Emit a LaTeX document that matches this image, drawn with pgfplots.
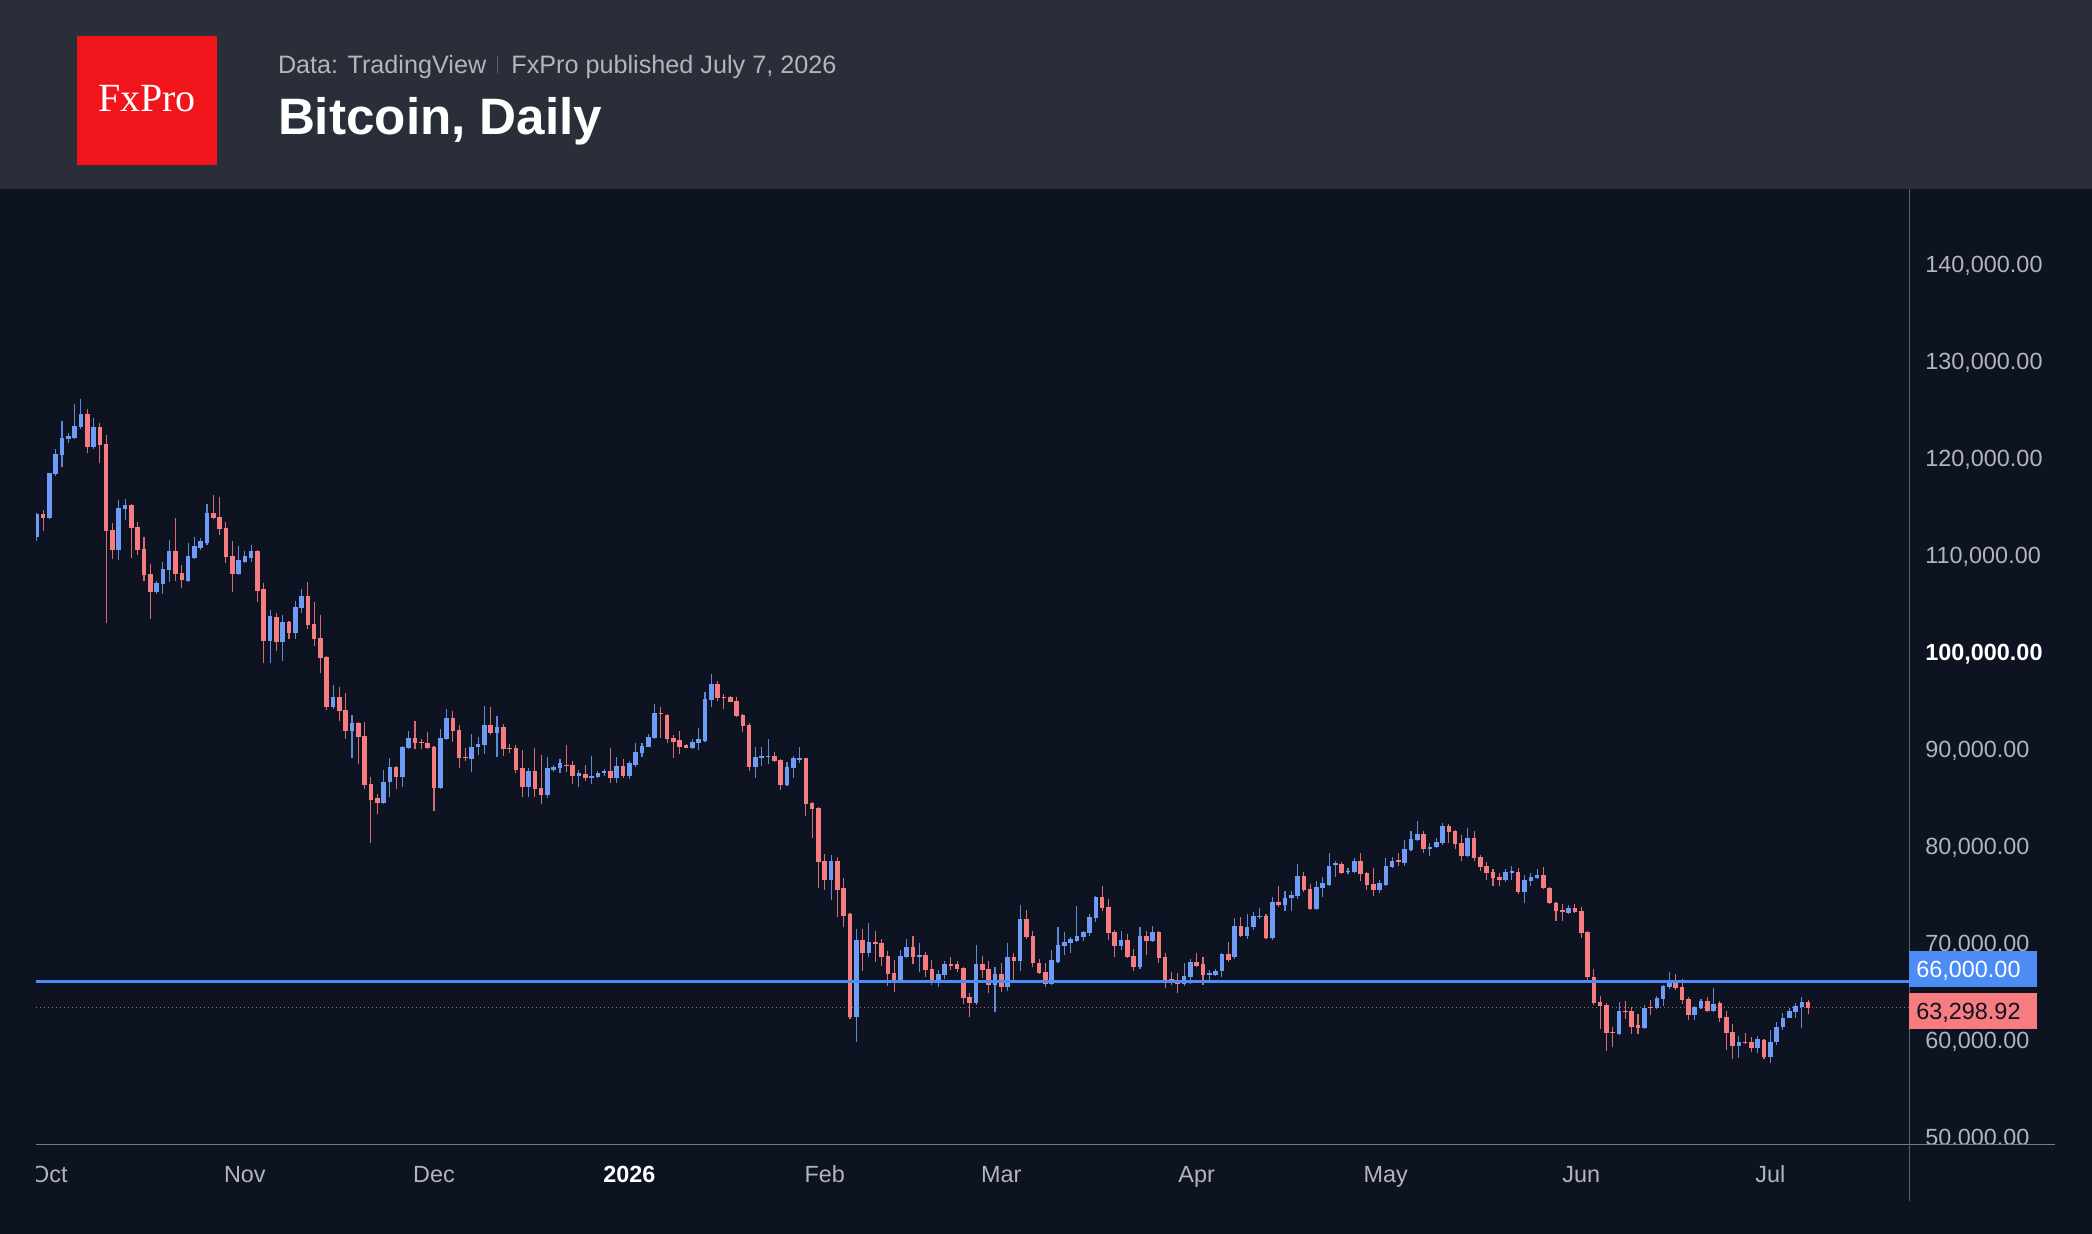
\documentclass[border=0pt]{standalone}
\usepackage{pgfplots}
\pgfplotsset{compat=1.18}
\usepackage{pgfplotstable}
\usepackage{fontspec}
\setmainfont{Liberation Sans}
\newfontfamily\logofont{Liberation Serif}
\definecolor{bg}{HTML}{0D1321}
\definecolor{hdr}{HTML}{2A2E39}
\definecolor{logored}{HTML}{F2141B}
\definecolor{txt}{HTML}{B2B5BE}
\definecolor{sepc}{HTML}{5D606B}
\definecolor{axc}{HTML}{787B86}
\definecolor{upc}{HTML}{6E9BF5}
\definecolor{dnc}{HTML}{F77C80}
\definecolor{upw}{HTML}{5F89D8}
\definecolor{dnw}{HTML}{D56E73}
\definecolor{lvl}{HTML}{4D8CF5}
\definecolor{dotc}{HTML}{C0646A}

\pgfplotstableread{
d o h l c
-2 111889 114364 111477 114226
0 113848 118500 113700 118420
1 118317 120894 118179 120379
2 120276 123816 119107 122097
3 121994 122613 121513 122269
4 122097 125568 121994 123300
5 123231 126084 122956 124503
7 121101 124091 120929 123163
11 110515 115670 109483 114880
12 114777 115807 113608 115120
17 106185 107353 106000 107078
18 106975 109312 105944 108521
19 108452 111546 107250 110377
22 107353 111203 107200 109897
23 109656 111821 109587 110927
24 110756 111718 110515 111443
25 111271 115257 111031 114364
30 108007 110928 107938 109484
31 109312 110412 109209 109897
32 109725 111031 109312 110447
35 101167 104328 98830 103710
37 101064 103813 99104 103126
39 101992 105256 101304 104603
40 104500 106460 104053 105772
45 94300 96596 94121 95394
48 91853 93503 89035 92712
53 84463 87832 84300 86629
54 86560 89035 85082 88107
56 87076 90341 86113 90238
57 90135 91853 89997 91097
62 86010 92025 85900 91097
63 91028 94087 90925 93228
67 88932 91544 87592 90169
68 90169 91200 89400 90513
69 90411 94432 89448 92473
71 91683 93401 89208 92301
76 86114 88005 85084 87730
79 85221 89208 84981 88005
80 87833 88349 87661 88108
81 88005 88933 87489 88521
84 87214 87833 86114 87489
86 86974 89311 86389 87214
87 87077 87764 86974 87558
88 87558 87902 87214 87764
90 86974 89139 86527 88246
92 87214 88800 86900 88520
93 88348 90651 88108 89654
94 89552 90582 89208 90342
95 90239 91545 90170 91270
96 91167 94604 91000 93676
102 90067 91029 89964 90754
103 90651 92198 89895 91029
104 90823 95841 90754 95119
105 95050 97731 94364 96700
112 88177 90239 86974 89208
113 89105 90170 88246 89277
114 89208 91029 88417 89311
117 86287 88624 86200 88109
118 88006 89312 87043 89037
119 88865 90240 88521 89037
124 76492 79069 74429 78485
128 62400 71405 59822 70305
130 68930 72024 68587 70064
135 66009 69274 65837 68656
136 68518 70374 68415 69549
138 68587 69961 67040 68759
141 66182 67213 65495 66766
142 66698 68141 66251 67832
147 63776 69791 63650 67832
150 65667 67557 62848 66766
152 65495 69963 65082 68588
154 68141 73915 67144 72437
159 65770 69275 65650 68244
160 68072 71681 67950 69791
161 69722 71165 68760 70066
162 69963 70650 69000 70375
163 70237 73812 70100 70719
164 70650 71200 70237 71097
165 70994 72987 70753 72712
166 72609 74843 72197 74706
170 69688 71234 69275 70306
173 67557 71612 67316 70719
175 70203 71784 70100 71097
180 65770 67969 65598 66594
181 66526 68313 65770 68072
184 66697 67213 66182 66869
185 66697 67282 66594 67144
186 67110 68950 66457 68863
188 68587 72539 68312 71749
190 70718 72952 70375 71612
191 71612 73227 71337 72815
192 72643 73640 72437 72815
194 70478 74705 70306 74258
196 73915 75358 73330 74671
197 74602 75358 73296 74946
198 74877 78108 74499 76905
201 73502 76389 73400 75736
202 75633 76768 74705 76148
203 75977 79311 75850 77970
204 78039 78486 76836 78211
206 77283 77695 77077 77455
207 77283 78727 77180 78486
211 75461 76500 75117 76149
212 75977 78795 75850 77970
213 77867 78898 77750 78486
215 78280 80617 77970 79655
216 79586 81545 79450 80686
217 80617 82576 80500 81235
219 79689 80342 79001 79930
220 79861 80857 79750 80445
221 80342 82335 80101 82060
225 79001 81820 78830 80857
231 76492 77626 76320 77352
232 77249 77970 76492 77420
234 75220 77008 74087 76492
235 76424 77180 75908 76767
236 76733 77592 76596 77008
241 73124 73915 72987 73571
249 60613 63879 60500 63021
253 61266 63604 61150 63329
255 63261 64532 63150 64291
256 64188 65700 63501 65598
257 65495 67041 65220 66079
261 62575 63502 62059 63365
262 63262 64190 63193 64018
264 62987 65324 62900 63709
268 59413 60444 58107 59756
271 59138 60444 58622 60066
273 58210 61028 57591 59825
274 59825 61887 59481 61372
275 61372 62746 61028 62300
276 62300 63262 62231 62987
277 62918 63778 62300 63502
278 63365 64396 61200 63881
}\upT

\pgfplotstableread{
d o h l c
-1 114192 114639 112508 113848
6 124503 125018 120482 121101
8 123163 123575 119520 121341
9 121444 122372 103021 112508
10 112577 113264 109621 110515
13 115120 115223 109724 112817
14 112920 113402 110000 110515
15 110653 111820 107353 107903
16 108040 109071 103433 106185
20 110377 113814 107353 108074
21 108109 108969 106563 107422
26 114364 116186 113677 113780
27 113952 115946 112062 112646
28 112749 113436 109209 109759
29 109897 111443 106150 108041
33 110412 110515 105119 106322
34 106460 107078 98830 101167
36 103641 104053 100135 101064
38 103126 103200 101304 101992
41 105772 107250 102336 102782
42 102885 105119 100616 101304
43 101407 103813 97867 99345
44 99448 99600 94000 94300
46 95394 96424 92885 93950
47 94018 95737 91028 91853
49 92712 92815 88416 91268
50 91372 92815 85873 86285
51 86388 87145 80340 84738
52 84978 85321 83260 84463
55 88107 88245 85873 87076
58 91097 92884 89963 90650
59 90753 90994 89963 90650
60 90582 91784 90000 90135
61 90238 90300 83638 86010
64 93228 93916 90753 91853
65 91922 92472 88004 89035
66 89207 90066 88794 89035
70 92473 94295 91442 91683
72 92301 92576 89311 89964
73 90067 90514 89552 89964
74 90067 90411 87489 87833
75 88005 89895 85084 86114
77 87730 90136 85084 85874
78 86012 89380 84293 85221
82 88349 90411 87661 88246
83 88349 88796 86389 87214
85 87421 88349 86733 86974
89 87730 90067 86527 86974
91 88246 88933 86974 87214
97 93676 94295 91167 93573
98 93504 93600 90582 91029
99 91098 91442 89036 90754
100 90926 91854 89449 90239
101 90411 90514 90067 90136
106 96700 97044 94982 95222
107 95394 95635 94088 95291
108 95394 95500 94800 94879
109 94947 95394 93332 93401
110 93504 93600 91786 92370
111 92473 92645 87730 88177
115 89311 89655 88700 88795
116 88865 89000 85772 86287
120 89037 89100 83125 84328
121 84397 84500 80857 83778
122 83881 84000 75632 78382
123 78485 79173 75460 76492
125 78485 78897 72711 75461
126 75633 76664 71680 72814
127 72986 73100 62193 62400
129 70305 71405 67143 68930
131 70064 71233 68071 69858
132 69961 70374 67658 68518
133 68656 69171 65597 66799
134 66937 68243 64910 66009
137 69549 70718 67830 68518
139 68759 69033 66525 67211
140 67282 68244 65667 66182
143 67797 68519 67213 67660
144 67832 68141 67041 67282
145 67454 67550 63707 64292
146 64464 64807 62401 63776
148 67832 68656 66423 67213
149 67282 68141 64807 65667
151 66766 67970 64979 65495
153 68588 69000 66010 68141
155 72437 73400 70410 70581
156 70719 71234 67557 67901
157 67970 68348 66766 66938
158 67041 67970 65426 65770
167 74706 75874 73296 73640
168 73743 74534 70306 70994
169 71097 71337 68588 69688
171 70306 70891 68416 68588
172 68691 69378 67144 67557
174 70719 71234 68760 70203
176 71097 71234 67969 68485
177 68588 69000 65323 66113
178 66285 67041 65666 66113
179 66113 66869 64807 65770
182 68072 69000 67488 67660
183 67797 68519 65667 66697
187 68829 70066 68072 68244
189 71749 72712 70581 70718
193 72815 72952 70375 70478
195 74258 75874 73674 73915
199 76905 77283 75289 75461
200 75564 76080 73400 73502
205 78108 78383 77100 77180
208 78486 79311 76423 77111
209 77180 77283 75461 75977
210 76080 77695 74843 75461
214 78555 79311 77970 78383
218 81235 81545 79311 79655
222 82060 82232 80342 81407
223 81545 81650 79689 80205
224 80342 81132 78486 79001
226 80857 81545 78452 78727
227 78898 79070 77455 77867
228 77970 78314 76492 77180
229 77352 77626 75874 76664
230 76836 77180 75874 76492
233 77352 77695 75100 75220
237 77008 77799 75530 75633
238 75702 75805 73980 74087
239 74156 74259 72299 73297
240 73399 73983 72299 73159
242 73571 73983 73124 73227
243 73331 73743 70478 71062
244 71097 71200 66010 66457
245 66526 67282 63650 63776
246 63879 64567 61129 63535
247 63604 63845 58895 60751
248 60854 61369 59307 60751
250 63021 64017 62161 62848
251 62986 63364 60613 61369
252 61541 62676 60613 61266
254 63432 64119 62573 63261
258 66079 66800 65151 65323
259 65427 66287 63709 64121
260 64224 64465 62059 62575
263 64018 64396 62918 62987
265 63778 64018 61887 62300
266 62403 62987 58966 60753
267 60856 61612 58038 59413
269 59756 60684 59550 59650
270 59756 60341 58726 59138
272 59997 60066 58003 58210
279 63881 64121 62643 63299
}\dnT

\begin{document}
\begin{tikzpicture}
\fill[bg] (0,0) rectangle (1046pt,-617pt);
\fill[hdr] (0,0) rectangle (1046pt,-94.75pt);
\fill[logored] (38.5pt,-18pt) rectangle (108.5pt,-82.5pt);
\node[white, inner sep=0pt, font=\logofont\fontsize{20}{24}\selectfont] at (73.5pt,-49.4pt) {FxPro};
\node[anchor=base west, inner sep=0pt, text=txt, font=\fontsize{12.6}{15}\selectfont] at (138.8pt,-36.7pt) {Data: TradingView};
\draw[sepc, line width=0.7pt] (248.8pt,-28pt) -- (248.8pt,-36.5pt);
\node[anchor=base west, inner sep=0pt, text=txt, font=\fontsize{12.6}{15}\selectfont] at (255.5pt,-36.7pt) {FxPro published July 7, 2026};
\node[anchor=base west, inner sep=0pt, text=white, font=\bfseries\fontsize{25.6}{30}\selectfont] at (138.8pt,-67.4pt) {Bitcoin, Daily};

\begin{axis}[
  at={(18pt,-572.35pt)}, anchor=south west,
  scale only axis, width=936.5pt, height=477.6pt,
  xmin=-2.13, xmax=295, ymin=49203, ymax=147684,
  axis line style={draw=none}, major tick length=0pt, tick style={draw=none},
  scaled y ticks=false, scaled x ticks=false,
  ytick={50000,60000,70000,80000,90000,100000,110000,120000,130000,140000},
  yticklabels={{50,000.00},{60,000.00},{70,000.00},{80,000.00},{90,000.00},{\textcolor{white}{\bfseries 100,000.00}},{110,000.00},{120,000.00},{130,000.00},{140,000.00}},
  yticklabel pos=right,
  yticklabel style={anchor=base west, inner sep=0pt, xshift=8pt, yshift=-4.2pt, text=txt, font=\fontsize{11.7}{14}\selectfont},
  xtick={0,31,61,92,123,151,182,212,243,273},
  xticklabels={Oct,Nov,Dec,{\textcolor{white}{\bfseries 2026}},Feb,Mar,Apr,May,Jun,Jul},
  xticklabel style={anchor=base, inner sep=0pt, yshift=-19pt, text=txt, font=\fontsize{11.7}{14}\selectfont},
]
\addplot[dotc, line width=0.5pt, dash pattern=on 0.6pt off 1.4pt, forget plot] coordinates {(-2.13,63299) (295,63299)};
% wicks
\addplot[draw=none, mark=none, forget plot, error bars/.cd, y dir=plus, y explicit, error mark=none,
  error bar style={line width=0.55pt, draw=upw, solid}]
  table[x=d, y=l, y error plus expr=\thisrow{h}-\thisrow{l}] {\upT};
\addplot[draw=none, mark=none, forget plot, error bars/.cd, y dir=plus, y explicit, error mark=none,
  error bar style={line width=0.55pt, draw=dnw, solid}]
  table[x=d, y=l, y error plus expr=\thisrow{h}-\thisrow{l}] {\dnT};
% bodies
\addplot[draw=none, mark=none, forget plot, error bars/.cd, y dir=plus, y explicit, error mark=none,
  error bar style={line width=2.3pt, draw=upc, solid}]
  table[x=d, y=o, y error plus expr=\thisrow{c}-\thisrow{o}] {\upT};
\addplot[draw=none, mark=none, forget plot, error bars/.cd, y dir=plus, y explicit, error mark=none,
  error bar style={line width=2.3pt, draw=dnc, solid}]
  table[x=d, y=c, y error plus expr=\thisrow{o}-\thisrow{c}] {\dnT};
% level line
\addplot[lvl, line width=1.6pt, forget plot] coordinates {(-2.13,66000) (295,66000)};
\end{axis}

% left edge of the time scale (clips the start of the first label)
\fill[bg] (0,-572.6pt) rectangle (18pt,-617pt);
% bottom of price scale (hides lower part of the 50,000 label)
\fill[bg] (954.9pt,-572.6pt) rectangle (1046pt,-617pt);
\draw[axc, line width=0.5pt] (18pt,-572.35pt) -- (1027.5pt,-572.35pt);
\draw[sepc, line width=0.5pt] (954.5pt,-94.75pt) -- (954.5pt,-600.5pt);

% price labels
\fill[lvl] (954.5pt,-475.5pt) rectangle (1018.5pt,-493.5pt);
\node[anchor=base west, inner sep=0pt, text=white, font=\fontsize{11.7}{14}\selectfont] at (958pt,-488.6pt) {66,000.00};
\fill[dnc] (954.5pt,-496.5pt) rectangle (1018.5pt,-514.5pt);
\node[anchor=base west, inner sep=0pt, text=bg, font=\fontsize{11.7}{14}\selectfont] at (958pt,-509.6pt) {63,298.92};

\pgfresetboundingbox
\path (0,0) rectangle (1046pt,-617pt);
\end{tikzpicture}
\end{document}
